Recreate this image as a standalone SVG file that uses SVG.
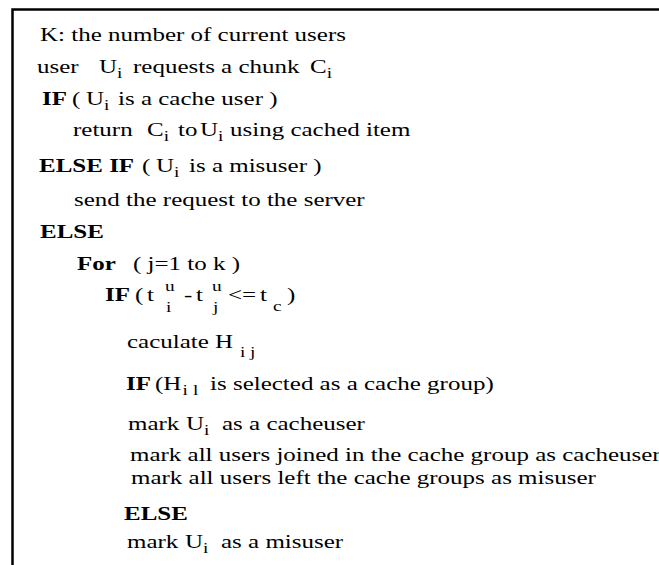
<svg xmlns="http://www.w3.org/2000/svg" width="659" height="565" viewBox="0 0 659 565">
  <style>
    text { font-family: "Liberation Serif", "Times New Roman", serif; font-size: 19.5px; fill: #000; }
    .b { font-weight: bold; }
    .s { font-size: 15px; }
  </style>
  <rect width="659" height="565" fill="#fff"/>
  <!-- frame around the pseudo-code (runs off the right and bottom edges) -->
  <rect x="12.5" y="9.5" width="700" height="600" fill="none" stroke="#000" stroke-width="2.5"/>
  <!-- pseudo-code listing; glyphs are widened horizontally -->
  <g transform="scale(1.282 1)">
    <text x="31.20" y="41">K: the number of current users</text>
    <text y="73.5"><tspan x="28.86">user</tspan><tspan x="77.22">U</tspan><tspan class="s" y="78.5">i</tspan><tspan x="103.74" y="73.5">requests a chunk</tspan><tspan x="241.81">C</tspan><tspan class="s" y="78.5">i</tspan></text>
    <text y="105"><tspan class="b" x="32.76">IF</tspan><tspan x="56.16">(</tspan><tspan x="67.08">U</tspan><tspan class="s" y="110">i</tspan><tspan x="92.04" y="105">is a cache user )</tspan></text>
    <text y="136.5"><tspan x="56.94">return</tspan><tspan x="114.66">C</tspan><tspan class="s" y="141.5">i</tspan><tspan x="138.85" y="136.5">to</tspan><tspan x="156.01">U</tspan><tspan class="s" y="141.5">i</tspan><tspan x="179.41" y="136.5">using cached item</tspan></text>
    <text y="172"><tspan class="b" x="30.42">ELSE IF</tspan><tspan x="110.76">(</tspan><tspan x="121.68">U</tspan><tspan class="s" y="177">i</tspan><tspan x="147.43" y="172">is a misuser )</tspan></text>
    <text x="57.72" y="206">send the request to the server</text>
    <text class="b" x="31.20" y="238">ELSE</text>
    <text y="270"><tspan class="b" x="60.06">For</tspan><tspan x="103.74">( j=1 to k )</tspan></text>
    <text y="301.5"><tspan class="b" x="81.90">IF</tspan><tspan x="105.30">(</tspan><tspan x="114.66">t</tspan><tspan class="s" x="128.71" y="291.5">u</tspan><tspan class="s" x="129.49" y="312.5">i</tspan><tspan x="143.53" y="301.5">-</tspan><tspan x="152.89">t</tspan><tspan class="s" x="165.37" y="291.5">u</tspan><tspan class="s" x="166.15" y="312.5">j</tspan><tspan x="177.85" y="301.5">&lt;=</tspan><tspan x="202.81">t</tspan><tspan class="s" x="212.95" y="311.5">c</tspan><tspan x="223.87" y="301.5">)</tspan></text>
    <text y="348"><tspan x="99.06">caculate H</tspan><tspan class="s" x="187.21" y="357">i</tspan><tspan class="s" x="195.01">j</tspan></text>
    <text y="390"><tspan class="b" x="98.28">IF</tspan><tspan x="120.90">(H</tspan><tspan class="s" x="142.40" y="395">i</tspan><tspan class="s" x="150.50">l</tspan><tspan x="163.81" y="390">is selected as a cache group)</tspan></text>
    <text y="430"><tspan x="99.84">mark</tspan><tspan x="145.09">U</tspan><tspan class="s" y="435">i</tspan><tspan x="173.17" y="430">as a cacheuser</tspan></text>
    <text x="101.40" y="461">mark all users joined in the cache group as cacheuser</text>
    <text x="102.18" y="484">mark all users left the cache groups as misuser</text>
    <text class="b" x="96.72" y="520">ELSE</text>
    <text y="548"><tspan x="99.06">mark</tspan><tspan x="144.31">U</tspan><tspan class="s" y="553">i</tspan><tspan x="172.39" y="548">as a misuser</tspan></text>
  </g>
</svg>
